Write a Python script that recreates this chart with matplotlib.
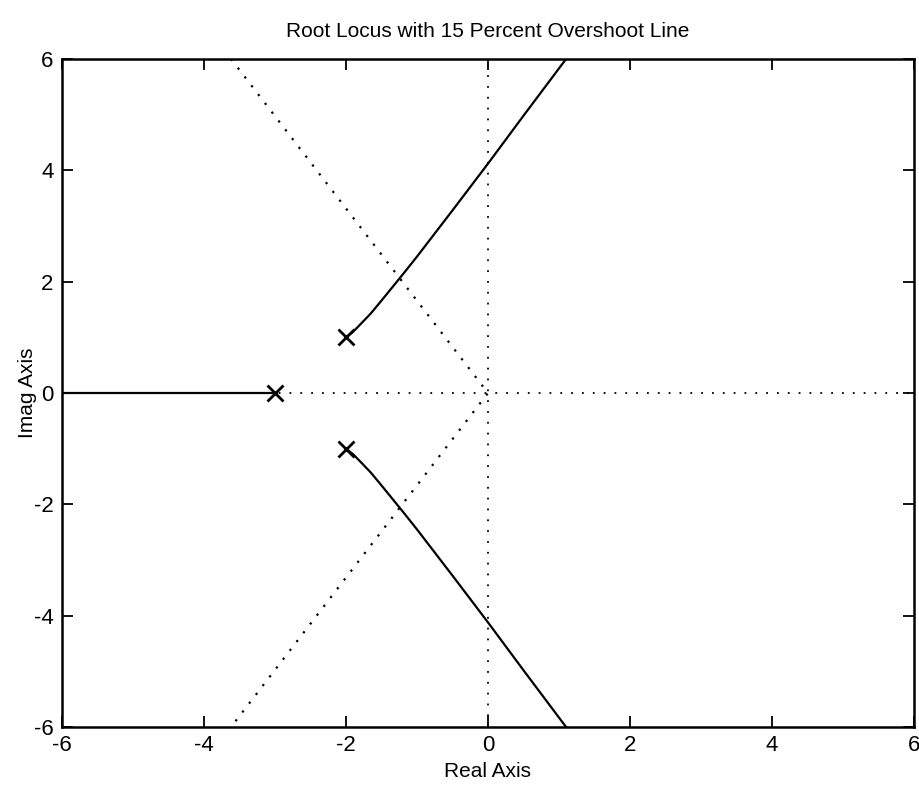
import matplotlib.pyplot as plt

# root locus branches
upper_re = [-2.0, -1.9, -1.8, -1.65, -1.5, -1.2, -1.0, -0.5, 0.0, 0.5, 1.0, 1.1]
upper_im = [1.0, 1.1, 1.23, 1.43, 1.66, 2.13, 2.45, 3.28, 4.12, 4.98, 5.83, 6.0]
lower_re = upper_re
lower_im = [-v for v in upper_im]
real_re = [-6.0, -3.0]
real_im = [0.0, 0.0]

# open-loop poles
pole_re = [-2.0, -2.0, -3.0]
pole_im = [1.0, -1.0, 0.0]

# 15 percent overshoot line
os_re = [-3.62, 0.0, -3.62]
os_im = [6.0, 0.0, -6.0]

ticks = [-6, -4, -2, 0, 2, 4, 6]

plt.rcParams['font.family'] = ['Liberation Sans', 'DejaVu Sans']
plt.rcParams['axes.unicode_minus'] = False

fig = plt.figure(figsize=(9.19, 7.86), dpi=100)
ax = fig.add_axes([0.0675, 0.075, 0.927, 0.85])

dot = (0, (1, 5))
ax.plot([-6, 6], [0, 0], color='black', lw=1.3, linestyle=dot)
ax.plot([0, 0], [-6, 6], color='black', lw=1.3, linestyle=dot)
ax.plot(os_re, os_im, color='black', lw=1.6, linestyle=(0, (1, 4)))

ax.plot(upper_re, upper_im, color='black', lw=1.6)
ax.plot(lower_re, lower_im, color='black', lw=1.6)
ax.plot(real_re, real_im, color='black', lw=1.6)
ax.plot(pole_re, pole_im, 'x', color='black', ms=11, mew=2)

ax.set_xlim(-6, 6)
ax.set_ylim(-6, 6)
ax.set_xticks(ticks)
ax.set_yticks(ticks)
ax.tick_params(direction='in', length=8, width=1.3, top=True, right=True,
               labelsize=16, pad=6)
for s in ax.spines.values():
    s.set_linewidth(1.8)

ax.set_title('Root Locus with 15 Percent Overshoot Line', fontsize=15, pad=16)
ax.set_xlabel('Real Axis', fontsize=15, labelpad=4)
ax.set_ylabel('Imag Axis', fontsize=15, labelpad=-2)

fig.savefig('out.png', dpi=100)
